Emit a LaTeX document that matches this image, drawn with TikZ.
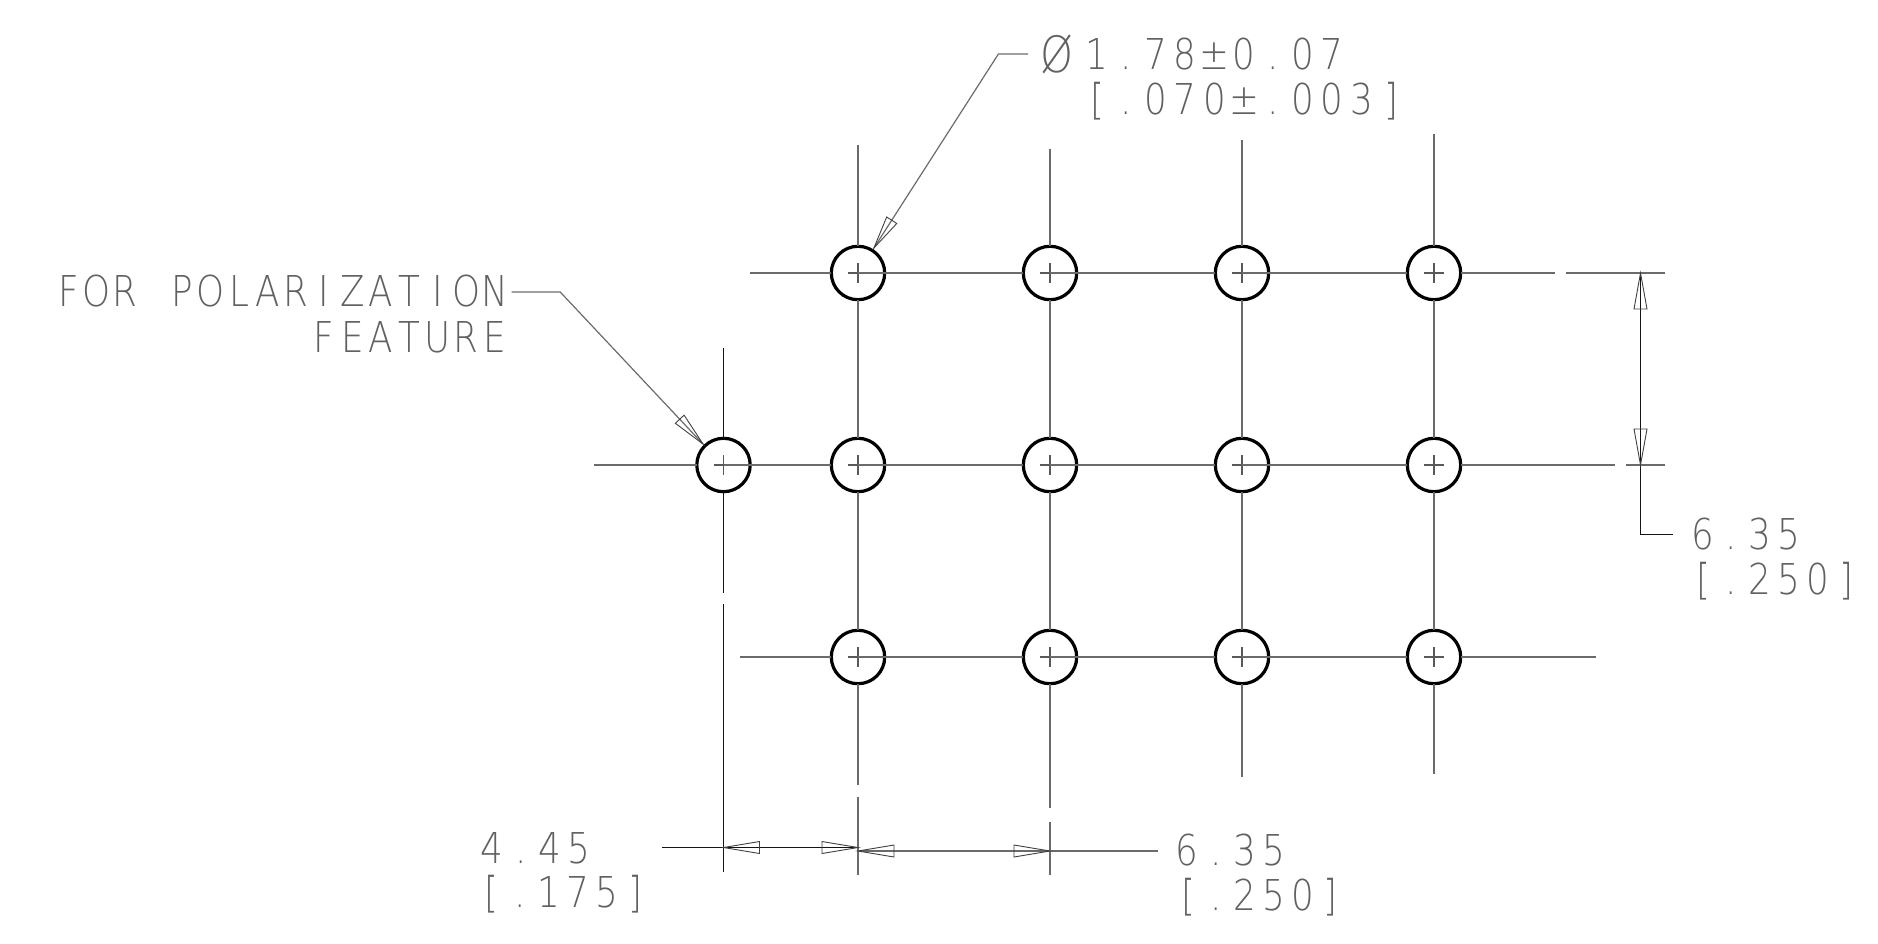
\documentclass[tikz,border=0pt]{standalone}
\usepackage{fontspec}
\usetikzlibrary{calc}
\newfontfamily\cadfont[FakeStretch=.84]{DejaVu Sans ExtraLight}
\newlength\cadw
\def\cadloop#1{\ifx#1\relax\else\makebox[\cadw]{#1}\expandafter\cadloop\fi}
% name, pitch, west x, baseline y, text
\newcommand\cadtxt[5]{\node[cadtext] (#1) at (#3,#4) {\setlength\cadw{#2pt}\cadloop#5\relax};}
% tip, towards, length, half width
\newcommand\ahead[4]{\draw[headline] ($(#1)!#3pt!(#2)!#4pt!90:(#1)$) -- (#1) -- ($(#1)!#3pt!(#2)!#4pt!-90:(#1)$) -- cycle;}
\tikzset{
  hole/.style={circle,draw=black,line width=3.2pt,minimum size=53.4pt,inner sep=0pt,outer sep=0pt},
  centerln/.style={draw=black!58,line width=1.7pt},
  innerln/.style={draw=black!65,line width=1.2pt},
  thinln/.style={draw=black!92,line width=1pt},
  headline/.style={draw=black!75,line width=.9pt},
  cadtext/.style={anchor=base west,inner sep=0pt,outer sep=0pt,text=black!62,font=\cadfont\fontsize{42.5pt}{46pt}\selectfont},
}
\begin{document}
\begin{tikzpicture}[x=1pt,y=-1pt]
\useasboundingbox (0,0) rectangle (1878,944);
% holes
\def\cxa{858}\def\cxb{1050}\def\cxc{1242}\def\cxd{1434}
\def\rya{273}\def\ryb{465}\def\ryc{657}
\foreach \c/\x in {a/\cxa,b/\cxb,c/\cxc,d/\cxd}
  \foreach \r/\y in {a/\rya,b/\ryb,c/\ryc}
    \node[hole] (h\r\c) at (\x,\y) {};
\node[hole] (pol) at (723.5,\ryb) {};
% centre crosses
\foreach \n in {haa,hab,hac,had,hba,hbb,hbc,hbd,hca,hcb,hcc,hcd,pol} {
  \draw[innerln] ($(\n.center)+(-10,0)$) -- ($(\n.center)+(10,0)$);
  \draw[innerln] ($(\n.center)+(0,-10)$) -- ($(\n.center)+(0,10)$);
}
% row centre lines
\coordinate (ra0) at (750,\rya);   \coordinate (ra1) at (1555,\rya);
\coordinate (ra2) at (1566,\rya);  \coordinate (ra3) at (1665,\rya);
\coordinate (rb0) at (594,\ryb);   \coordinate (rb1) at (1615,\ryb);
\coordinate (rb2) at (1625.7,\ryb);\coordinate (rb3) at (1665,\ryb);
\coordinate (rc0) at (740,\ryc);   \coordinate (rc1) at (1596,\ryc);
\draw[centerln] (ra0) -- (haa.west);
\draw[centerln] (haa.center) -- (hab.west);
\draw[centerln] (hab.center) -- (hac.west);
\draw[centerln] (hac.center) -- (had.west);
\draw[centerln] (had.east) -- (ra1);
\draw[centerln] (ra2) -- (ra3);
\draw[centerln] (rb0) -- (pol.west);
\draw[centerln] (pol.center) -- (hba.west);
\draw[centerln] (hba.center) -- (hbb.west);
\draw[centerln] (hbb.center) -- (hbc.west);
\draw[centerln] (hbc.center) -- (hbd.west);
\draw[centerln] (hbd.east) -- (rb1);
\draw[centerln] (rb2) -- (rb3);
\draw[centerln] (rc0) -- (hca.west);
\draw[centerln] (hca.center) -- (hcb.west);
\draw[centerln] (hcb.center) -- (hcc.west);
\draw[centerln] (hcc.center) -- (hcd.west);
\draw[centerln] (hcd.east) -- (rc1);
% column centre lines
\coordinate (ca0) at (\cxa,145);   \coordinate (ca1) at (\cxa,785);
\coordinate (ca2) at (\cxa,797);   \coordinate (ca3) at (\cxa,875);
\coordinate (cb0) at (\cxb,148.7); \coordinate (cb1) at (\cxb,807.7);
\coordinate (cb2) at (\cxb,821.7); \coordinate (cb3) at (\cxb,875);
\coordinate (cc0) at (\cxc,140);   \coordinate (cc1) at (\cxc,777);
\coordinate (cd0) at (\cxd,134);   \coordinate (cd1) at (\cxd,774);
\coordinate (cp0) at (723.5,348);  \coordinate (cp1) at (723.5,592.5);
\coordinate (cp2) at (723.5,603.5);\coordinate (cp3) at (723.5,871.7);
\foreach \c in {a,b,c,d} {
  \draw[centerln] (c\c0) -- (ha\c.north);
  \draw[centerln] (ha\c.south) -- (hb\c.north);
  \draw[centerln] (hb\c.south) -- (hc\c.north);
  \draw[centerln] (hc\c.south) -- (c\c1);
}
\draw[centerln] (ca2) -- (ca3);
\draw[centerln] (cb2) -- (cb3);
\draw[thinln] (cp0) -- (pol.north);
\draw[thinln] (pol.south) -- (cp1);
\draw[thinln] (cp2) -- (cp3);
% dimension: 4.45
\coordinate (da0) at (661.7,847.5);
\coordinate (da1) at (723.5,847.5);
\coordinate (da2) at (\cxa,847.5);
\draw[thinln] (da0) -- (da2);
\ahead{da1}{da2}{36}{6}
\ahead{da2}{da1}{36}{6}
% dimension: 6.35 bottom
\coordinate (db1) at (\cxa,851);
\coordinate (db2) at (\cxb,851);
\coordinate (db3) at (1157.7,851);
\draw[centerln] (db1) -- (db3);
\ahead{db1}{db2}{36}{6}
\ahead{db2}{db1}{36}{6}
% dimension: 6.35 right
\coordinate (dc1) at (1640.5,\rya);
\coordinate (dc2) at (1640.5,\ryb);
\coordinate (dc3) at (1640.5,534.5);
\coordinate (dc4) at (1673,534.5);
\draw[thinln] (dc1) -- (dc3) -- (dc4);
\ahead{dc1}{dc2}{36}{6.5}
\ahead{dc2}{dc1}{36}{6.5}
% leaders
\coordinate (la0) at (1028,54);
\coordinate (la1) at (998.4,54);
\coordinate (la2) at (873.9,248);
\draw[centerln,line width=1.2pt] (la0) -- (la1) -- (la2);
\ahead{la2}{la1}{33}{6}
\coordinate (lb0) at (511.7,292);
\coordinate (lb1) at (560.2,292);
\coordinate (lb2) at (703,444);
\draw[centerln,line width=1.2pt] (lb0) -- (lb1) -- (lb2);
\ahead{lb2}{lb1}{34}{6}
% texts
\node[cadtext,anchor=center,font=\cadfont\fontsize{50pt}{52pt}\selectfont] (phi) at (1057.5,54) {Ø};
\cadtxt{t1}{29.4}{1082.3}{69.3}{1.78±0.07}
\cadtxt{t2}{29.4}{1082.3}{115}{[.070±.003]}
\cadtxt{t3}{28.4}{54.4}{306.7}{FOR~POLARIZATION}
\cadtxt{t4}{28.4}{310}{352.7}{FEATURE}
\cadtxt{t5}{29}{477.5}{863}{4.45}
\cadtxt{t6}{28.8}{477}{907.7}{[.175]}
\cadtxt{t7}{28.8}{1172.6}{865.7}{6.35}
\cadtxt{t8}{28.6}{1173.7}{910.7}{[.250]}
\cadtxt{t9}{28.8}{1688.3}{549}{6.35}
\cadtxt{t10}{28.7}{1688.6}{594}{[.250]}
\end{tikzpicture}
\end{document}
